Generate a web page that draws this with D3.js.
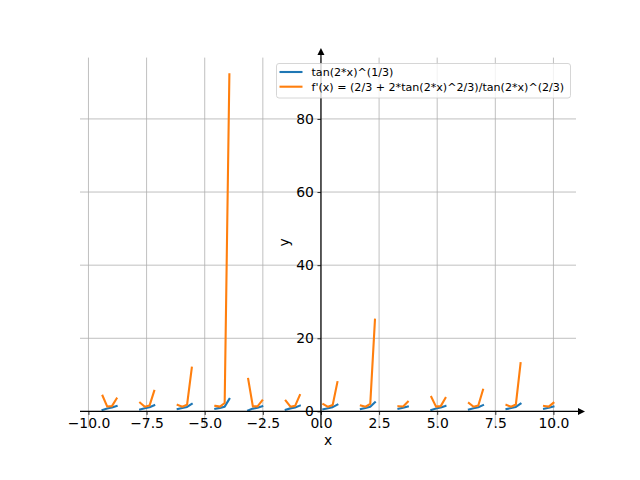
<!DOCTYPE html>
<html>
<head>
<meta charset="utf-8">
<script src="https://cdn.jsdelivr.net/npm/d3@7"></script>
<style>
  html, body { margin: 0; padding: 0; background: #fff; }
  svg { display: block; font-family: "DejaVu Sans", sans-serif; }
</style>
</head>
<body>
<svg id="chart" width="640" height="480"></svg>
<script>
// Sample x positions (only where the curves are drawn; null marks a gap)
const xValues = [
  -9.394, -9.192, -8.990, -8.788, null,
  -7.778, -7.576, -7.374, -7.172, null,
  -6.162, -5.960, -5.758, -5.556, null,
  -4.545, -4.343, -4.141, -3.939, null,
  -3.131, -2.929, -2.727, -2.525, null,
  -1.515, -1.313, -1.111, -0.909, null,
  0.101, 0.303, 0.505, 0.707, null,
  1.717, 1.919, 2.121, 2.323, null,
  3.333, 3.535, 3.737, null,
  4.747, 4.949, 5.152, 5.354, null,
  6.364, 6.566, 6.768, 6.970, null,
  7.980, 8.182, 8.384, 8.586, null,
  9.596, 9.798, 10.000
];
// tan(2*x)^(1/3)
const fValues = [
  0.395, 0.795, 1.058, 1.484, null,
  0.536, 0.854, 1.127, 1.684, null,
  0.628, 0.911, 1.205, 2.050, null,
  0.703, 0.969, 1.298, 3.429, null,
  0.274, 0.767, 1.029, 1.417, null,
  0.482, 0.827, 1.095, 1.582, null,
  0.589, 0.885, 1.168, 1.850, null,
  0.670, 0.942, 1.253, 2.474, null,
  0.739, 1.001, 1.359, null,
  0.413, 0.801, 1.064, 1.499, null,
  0.545, 0.859, 1.133, 1.709, null,
  0.636, 0.916, 1.213, 2.104, null,
  0.709, 0.974, 1.308
];
// f'(x)
const dValues = [
  4.282, 1.321, 1.431, 3.535, null,
  2.379, 1.269, 1.599, 5.602, null,
  1.793, 1.263, 1.863, 11.933, null,
  1.513, 1.298, 2.288, 92.18, null,
  8.886, 1.363, 1.378, 3.018, null,
  2.909, 1.286, 1.514, 4.442, null,
  1.999, 1.260, 1.729, 8.003, null,
  1.618, 1.276, 2.070, 25.093, null,
  1.420, 1.335, 2.634, null,
  3.934, 1.314, 1.444, 3.664, null,
  2.300, 1.267, 1.619, 5.914, null,
  1.758, 1.264, 1.895, 13.199, null,
  1.495, 1.303, 2.340
];
const xTicks = [-10, -7.5, -5, -2.5, 0, 2.5, 5, 7.5, 10];
const xTickLabels = ["\u221210.0", "\u22127.5", "\u22125.0", "\u22122.5", "0.0", "2.5", "5.0", "7.5", "10.0"];
const yTicks = [0, 20, 40, 60, 80];
const yTickLabels = ["0", "20", "40", "60", "80"];
const seriesNames = ["tan(2*x)^(1/3)", "f'(x) = (2/3 + 2*tan(2*x)^2/3)/tan(2*x)^(2/3)"];
const seriesColors = ["#1f77b4", "#ff7f0e"];

const L = 80, R = 576, T = 57.6, B = 427.2;
const svg = d3.select("#chart");

const x = d3.scaleLinear().domain([-10.364, 10.970]).range([L, R]);
const y = d3.scaleLinear().domain([-4.321, 96.775]).range([B, T]);

// grid
const grid = svg.append("g");
grid.selectAll("line.vg").data(xTicks).join("line")
  .attr("x1", d => x(d)).attr("x2", d => x(d)).attr("y1", T).attr("y2", B)
  .attr("stroke", "#b0b0b0").attr("stroke-width", 0.8);
grid.selectAll("line.hg").data(yTicks).join("line")
  .attr("y1", d => y(d)).attr("y2", d => y(d)).attr("x1", L).attr("x2", R)
  .attr("stroke", "#b0b0b0").attr("stroke-width", 0.8);

// lines
const pts = (vals) => xValues.map((xv, i) => ({ x: xv, y: vals[i] }));
const line = d3.line().defined(d => d.x != null && d.y != null).x(d => x(d.x)).y(d => y(d.y));
[fValues, dValues].forEach((vals, k) => {
  svg.append("path").datum(pts(vals))
    .attr("d", line).attr("fill", "none")
    .attr("stroke", seriesColors[k]).attr("stroke-width", 2.1)
    .attr("stroke-linejoin", "round").attr("stroke-linecap", "square");
});

// axes (centered spines)
const fs = 13.9;
const xAxis = svg.append("g").attr("transform", `translate(0,${y(0)})`)
  .call(d3.axisBottom(x).tickValues(xTicks).tickFormat((d, i) => xTickLabels[i]).tickSize(3.5).tickPadding(3.5));
const yAxis = svg.append("g").attr("transform", `translate(${x(0)},0)`)
  .call(d3.axisLeft(y).tickValues(yTicks).tickFormat((d, i) => yTickLabels[i]).tickSize(3.5).tickPadding(3.5));
[xAxis, yAxis].forEach(g => {
  g.select(".domain").remove();
  g.selectAll(".tick line").attr("stroke", "#000").attr("stroke-width", 0.8);
  g.selectAll(".tick text").attr("fill", "#000").style("font-size", fs + "px").style("font-family", "DejaVu Sans");
});

// spines with arrows
const y0 = y(0), x0 = x(0);
svg.append("line").attr("x1", L).attr("x2", 580).attr("y1", y0).attr("y2", y0)
  .attr("stroke", "#000").attr("stroke-width", 1.2);
svg.append("path").attr("d", `M585,${y0} L578,${y0 - 3.5} L578,${y0 + 3.5} Z`).attr("fill", "#000");
svg.append("line").attr("x1", x0).attr("x2", x0).attr("y1", B).attr("y2", 53)
  .attr("stroke", "#000").attr("stroke-width", 1.2);
svg.append("path").attr("d", `M${x0},48 L${x0 - 3.5},55 L${x0 + 3.5},55 Z`).attr("fill", "#000");

// axis labels
svg.append("text").attr("x", (L + R) / 2).attr("y", 445).attr("text-anchor", "middle")
  .style("font-size", fs + "px").text("x");
svg.append("text").attr("transform", `translate(289,${(T + B) / 2}) rotate(-90)`)
  .attr("text-anchor", "middle").style("font-size", fs + "px").text("y");

// legend
const lg = svg.append("g");
lg.append("rect").attr("x", 276.5).attr("y", 63.5).attr("width", 294).attr("height", 34.5)
  .attr("rx", 2.5).attr("fill", "#fff").attr("fill-opacity", 0.8)
  .attr("stroke", "#cccccc").attr("stroke-width", 0.8);
seriesNames.forEach((name, k) => {
  const cy = 72 + k * 14.7;
  lg.append("line").attr("x1", 279.5).attr("x2", 302.5).attr("y1", cy).attr("y2", cy)
    .attr("stroke", seriesColors[k]).attr("stroke-width", 2.1);
  lg.append("text").attr("x", 311.5).attr("y", cy).attr("dy", "0.35em")
    .style("font-size", "11.1px").attr("fill", "#000").text(name);
});
</script>
</body>
</html>
